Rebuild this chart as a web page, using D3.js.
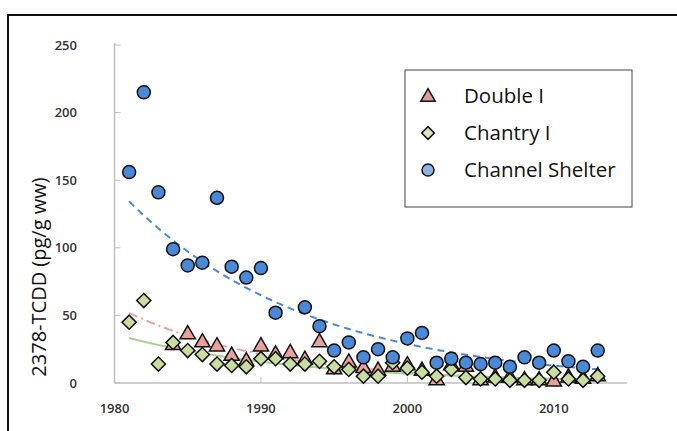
<!DOCTYPE html>
<html>
<head>
<meta charset="utf-8">
<script src="https://cdn.jsdelivr.net/npm/d3@7"></script>
<style>
  body { margin: 0; background: #fff; }
  svg text { font-family: "Open Sans", "Noto Sans", sans-serif; }
</style>
</head>
<body>
<div id="chart"></div>
<script>
// 2378-TCDD in three sites, by year
var doubleYears = [1984, 1985, 1986, 1987, 1988, 1989, 1990, 1991, 1992, 1993, 1994, 1995, 1996, 1997, 1998, 1999, 2000, 2001, 2002, 2003, 2004, 2005, 2006, 2007, 2008, 2009, 2010, 2011, 2012, 2013];
var doubleVals  = [28, 36, 30, 27, 20, 16, 27, 21, 22, 17, 30, 10, 15, 11, 9, 12, 13, 9, 2, 13, 12, 2, 4, 4, 2, 2, 1, 4, 3, 5];

var chantryYears = [1981, 1982, 1983, 1984, 1985, 1986, 1987, 1988, 1989, 1990, 1991, 1992, 1993, 1994, 1995, 1996, 1997, 1998, 1999, 2000, 2001, 2002, 2003, 2004, 2005, 2006, 2007, 2008, 2009, 2010, 2011, 2012, 2013];
var chantryVals  = [45, 61, 14, 30, 24, 21, 14, 13, 12, 18, 18, 14, 14, 16, 12, 10, 5, 5, 15, 11, 8, 5, 10, 4, 3, 3, 2, 2, 2, 8, 3, 2, 5];

var shelterYears = [1981, 1982, 1983, 1984, 1985, 1986, 1987, 1988, 1989, 1990, 1991, 1993, 1994, 1995, 1996, 1997, 1998, 1999, 2000, 2001, 2002, 2003, 2004, 2005, 2006, 2007, 2008, 2009, 2010, 2011, 2012, 2013];
var shelterVals  = [156, 215, 141, 99, 87, 89, 137, 86, 78, 85, 52, 56, 42, 24, 30, 19, 25, 19, 33, 37, 15, 18, 15, 14, 15, 12, 19, 15, 24, 16, 12, 24];

var yTicks = [0, 50, 100, 150, 200, 250];
var xTicks = [1980, 1990, 2000, 2010];
var seriesNames = ["Double I", "Chantry I", "Channel Shelter"];

var svgWidth = 677;
var svgHeight = 431;

var svg = d3.select("#chart")
  .append("svg")
  .attr("width", svgWidth)
  .attr("height", svgHeight);

// outer frame (cut off at right and bottom)
svg.append("rect")
  .attr("x", 8).attr("y", 15)
  .attr("width", 700).attr("height", 450)
  .attr("fill", "none")
  .attr("stroke", "#111")
  .attr("stroke-width", 2);

var x = d3.scaleLinear().domain([1980, 2015]).range([114.5, 627]);
var y = d3.scaleLinear().domain([0, 250]).range([383, 45]);

// axes
var axisColor = "#bfbfbf";
svg.append("line")
  .attr("x1", x(1980)).attr("x2", x(1980))
  .attr("y1", y(250) - 2).attr("y2", y(0))
  .attr("stroke", axisColor).attr("stroke-width", 1.5);
svg.append("line")
  .attr("x1", x(1980)).attr("x2", x(2015))
  .attr("y1", y(0)).attr("y2", y(0))
  .attr("stroke", axisColor).attr("stroke-width", 1.5);

svg.selectAll(".ytick")
  .data(yTicks)
  .enter().append("line")
  .attr("x1", x(1980)).attr("x2", x(1980) + 6)
  .attr("y1", function(d) { return y(d); })
  .attr("y2", function(d) { return y(d); })
  .attr("stroke", axisColor);

svg.selectAll(".ylab")
  .data(yTicks)
  .enter().append("text")
  .attr("x", 77)
  .attr("y", function(d) { return y(d) + 4.5; })
  .attr("text-anchor", "end")
  .attr("font-size", 13)
  .attr("font-weight", 600)
  .attr("fill", "#333")
  .text(function(d) { return d; });

svg.selectAll(".xtick")
  .data(xTicks)
  .enter().append("line")
  .attr("x1", function(d) { return x(d); })
  .attr("x2", function(d) { return x(d); })
  .attr("y1", y(0) - 6).attr("y2", y(0))
  .attr("stroke", axisColor);

svg.selectAll(".xlab")
  .data(xTicks)
  .enter().append("text")
  .attr("x", function(d) { return x(d); })
  .attr("y", 413)
  .attr("text-anchor", "middle")
  .attr("font-size", 13)
  .attr("font-weight", 600)
  .attr("fill", "#333")
  .text(function(d) { return d; });

svg.append("text")
  .attr("transform", "translate(46," + 277 + ") rotate(-90)")
  .attr("text-anchor", "middle")
  .attr("font-size", 20)
  .attr("fill", "#111")
  .text("2378-TCDD (pg/g ww)");

// exponential trend (least squares on ln y), like a spreadsheet trendline
function expFit(xs, ys) {
  var lx = xs.map(function(v) { return v - 1981; });
  var ly = ys.map(function(v) { return Math.log(v); });
  var mx = d3.mean(lx), my = d3.mean(ly);
  var sxy = d3.sum(lx, function(v, i) { return (v - mx) * (ly[i] - my); });
  var sxx = d3.sum(lx, function(v) { return (v - mx) * (v - mx); });
  var b = sxy / sxx;
  var a = my - b * mx;
  return function(t) { return Math.exp(a + b * (t - 1981)); };
}

var trendYears = d3.range(1981, 2013.01, 0.25);
var line = d3.line()
  .x(function(d) { return x(d[0]); })
  .y(function(d) { return y(d[1]); });

function drawTrend(xs, ys, color, dash) {
  var f = expFit(xs, ys);
  svg.append("path")
    .datum(trendYears.map(function(t) { return [t, f(t)]; }))
    .attr("d", line)
    .attr("fill", "none")
    .attr("stroke", color)
    .attr("stroke-width", 2)
    .attr("stroke-dasharray", dash);
}

drawTrend(shelterYears, shelterVals, "#4a86e0", "7,5");
drawTrend(doubleYears, doubleVals, "#e8a3a3", "9,4,2,4");
drawTrend(chantryYears, chantryVals, "#a9d18e", null);

function pairs(xs, ys) {
  return xs.map(function(v, i) { return [v, ys[i]]; });
}

var triangle = d3.symbol().type(d3.symbolTriangle).size(100);
var diamond = d3.symbol().type(d3.symbolSquare).size(100);

// Double I
svg.selectAll(".tri")
  .data(pairs(doubleYears, doubleVals))
  .enter().append("path")
  .attr("d", triangle)
  .attr("transform", function(d) { return "translate(" + x(d[0]) + "," + y(d[1]) + ")"; })
  .attr("fill", "#e8a19c")
  .attr("stroke", "#111")
  .attr("stroke-width", 1.5);

// Chantry I
svg.selectAll(".dia")
  .data(pairs(chantryYears, chantryVals))
  .enter().append("path")
  .attr("d", diamond)
  .attr("transform", function(d) { return "translate(" + x(d[0]) + "," + y(d[1]) + ") rotate(45)"; })
  .attr("fill", "#c9dda0")
  .attr("stroke", "#111")
  .attr("stroke-width", 1.5);

// Channel Shelter
svg.selectAll(".dot")
  .data(pairs(shelterYears, shelterVals))
  .enter().append("circle")
  .attr("cx", function(d) { return x(d[0]); })
  .attr("cy", function(d) { return y(d[1]); })
  .attr("r", 6.5)
  .attr("fill", "#4a88d8")
  .attr("stroke", "#111")
  .attr("stroke-width", 1.5);

// legend
var legend = svg.append("g");
legend.append("rect")
  .attr("x", 405).attr("y", 70)
  .attr("width", 227).attr("height", 137)
  .attr("fill", "#fff")
  .attr("stroke", "#444")
  .attr("stroke-width", 1);

var legendY = [96, 133, 170];
legend.append("path")
  .attr("d", d3.symbol().type(d3.symbolTriangle).size(90))
  .attr("transform", "translate(428," + (legendY[0] + 1) + ")")
  .attr("fill", "#dc9a98").attr("stroke", "#111").attr("stroke-width", 1.5);
legend.append("path")
  .attr("d", d3.symbol().type(d3.symbolSquare).size(80))
  .attr("transform", "translate(428," + legendY[1] + ") rotate(45)")
  .attr("fill", "#d8e6bf").attr("stroke", "#111").attr("stroke-width", 1.5);
legend.append("circle")
  .attr("cx", 428).attr("cy", legendY[2]).attr("r", 6)
  .attr("fill", "#8db4e2").attr("stroke", "#111").attr("stroke-width", 1.5);

legend.selectAll(".ltext")
  .data(seriesNames)
  .enter().append("text")
  .attr("x", 464)
  .attr("y", function(d, i) { return legendY[i] + 7; })
  .attr("font-size", 20.5)
  .attr("fill", "#111")
  .text(function(d) { return d; });
</script>
</body>
</html>
